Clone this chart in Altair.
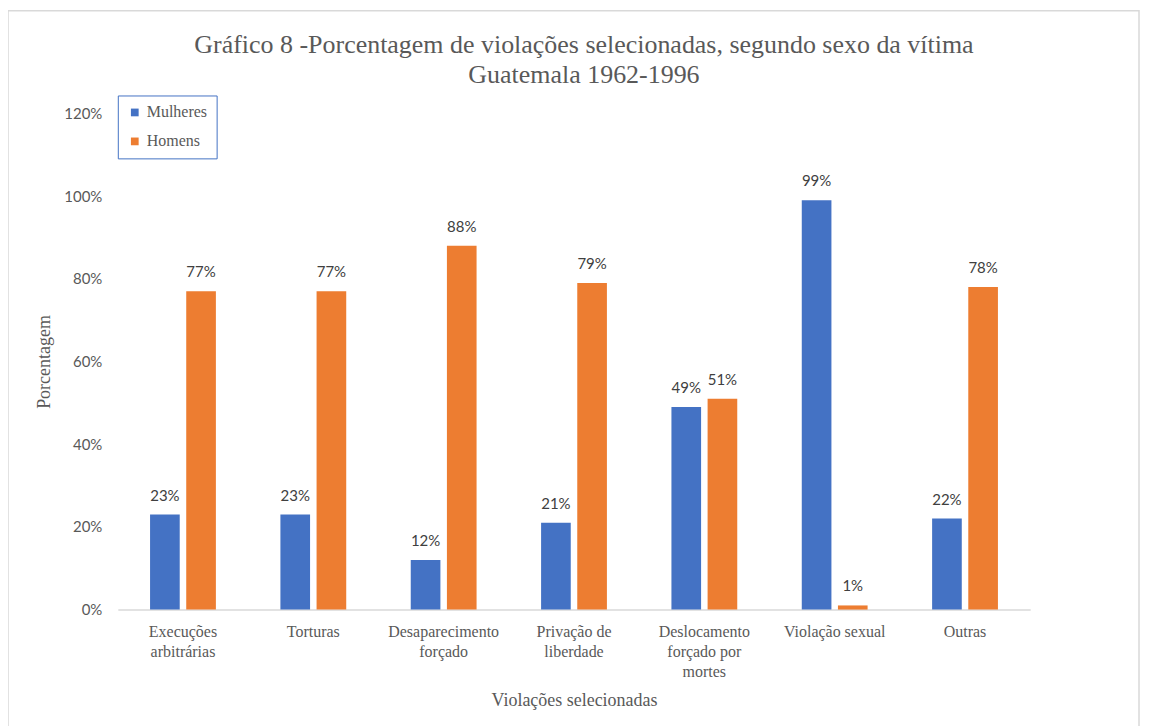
import altair as alt
import pandas as pd

categories = [
    "Execuções\narbitrárias",
    "Torturas",
    "Desaparecimento\nforçado",
    "Privação de\nliberdade",
    "Deslocamento\nforçado por\nmortes",
    "Violação sexual",
    "Outras",
]
mulheres = [0.23, 0.23, 0.12, 0.21, 0.49, 0.99, 0.22]
homens = [0.77, 0.77, 0.88, 0.79, 0.51, 0.01, 0.78]
series = ["Mulheres", "Homens"]
colors = ["#4472C4", "#ED7D31"]
y_ticks = [0, 0.2, 0.4, 0.6, 0.8, 1.0, 1.2]

rows = []
for i, c in enumerate(categories):
    rows.append({"cat": c, "sexo": "Mulheres", "v": mulheres[i]})
    rows.append({"cat": c, "sexo": "Homens", "v": homens[i]})
df = pd.DataFrame(rows)

serif = "Liberation Serif"
sans = "Lato"
grey = "#595959"

x_enc = alt.X(
    "cat:N",
    sort=categories,
    scale=alt.Scale(paddingInner=0.495, paddingOuter=0.2475),
    axis=alt.Axis(
        title="Violações selecionadas",
        labelExpr="split(datum.label, '\\n')",
        labelAngle=0,
        labelFont=serif,
        labelFontSize=16,
        labelColor=grey,
        labelLineHeight=20,
        labelPadding=14,
        labelBaseline="top",
        ticks=False,
        domainColor="#D9D9D9",
        domainWidth=1.5,
        titleFont=serif,
        titleFontSize=18,
        titleFontWeight="normal",
        titleColor=grey,
        titlePadding=12,
    ),
)
xoff = alt.XOffset(
    "sexo:N",
    sort=series,
    scale=alt.Scale(paddingInner=0.18, paddingOuter=0),
)
y_enc = alt.Y(
    "v:Q",
    scale=alt.Scale(domain=[0, 1.2], nice=False),
    axis=alt.Axis(
        title="Porcentagem",
        values=y_ticks,
        format=".0%",
        grid=False,
        domain=False,
        ticks=False,
        labelFont=sans,
        labelFontSize=15,
        labelColor=grey,
        labelPadding=16,
        titleFont=serif,
        titleFontSize=18,
        titleFontWeight="normal",
        titleColor=grey,
        titlePadding=10,
    ),
)

base = alt.Chart(df)

bars = base.mark_bar().encode(
    x=x_enc,
    xOffset=xoff,
    y=y_enc,
    color=alt.Color(
        "sexo:N",
        sort=series,
        scale=alt.Scale(domain=series, range=colors),
        legend=alt.Legend(
            title=None,
            orient="none",
            legendX=0,
            legendY=-18,
            direction="vertical",
            symbolType="square",
            symbolSize=60,
            symbolStrokeWidth=0,
            labelFont=serif,
            labelFontSize=16,
            labelColor=grey,
            labelOffset=4,
            rowPadding=13,
            padding=9,
            strokeColor="#4472C4",
            fillColor="white",
            labelLimit=200,
        ),
    ),
)

labels = base.mark_text(
    dy=-11, font=sans, fontSize=15, color="#404040", baseline="bottom"
).encode(
    x=alt.X("cat:N", sort=categories),
    xOffset=alt.XOffset("sexo:N", sort=series),
    y="v:Q",
    text=alt.Text("v:Q", format=".0%"),
)

frame = alt.Chart(pd.DataFrame({"a": [0]})).mark_rect(
    fill=None, stroke="#D9D9D9", strokeWidth=1.5
).encode(
    x=alt.value(-110), x2=alt.value(1023), y=alt.value(-103), y2=alt.value(620)
)

chart = (
    alt.layer(frame, bars, labels)
    .properties(
        width=914,
        height=497,
        view=alt.ViewBackground(strokeWidth=0, stroke="transparent"),
        autosize=alt.AutoSizeParams(type="none"),
        padding={"left": 110, "top": 105, "right": 111, "bottom": 116},
        title=alt.TitleParams(
            text=[
                "Gráfico 8 -Porcentagem de violações selecionadas, segundo sexo da vítima",
                "Guatemala 1962-1996",
            ],
            font=serif,
            fontSize=26,
            fontWeight="normal",
            color=grey,
            anchor="middle",
            dx=10,
            dy=78,
            offset=0,
            lineHeight=30,
        ),
    )
    .configure_view(strokeWidth=0, stroke="transparent")
    .configure(background="white")
)

chart.save("out.html", embed_options={"renderer": "svg", "actions": False})
